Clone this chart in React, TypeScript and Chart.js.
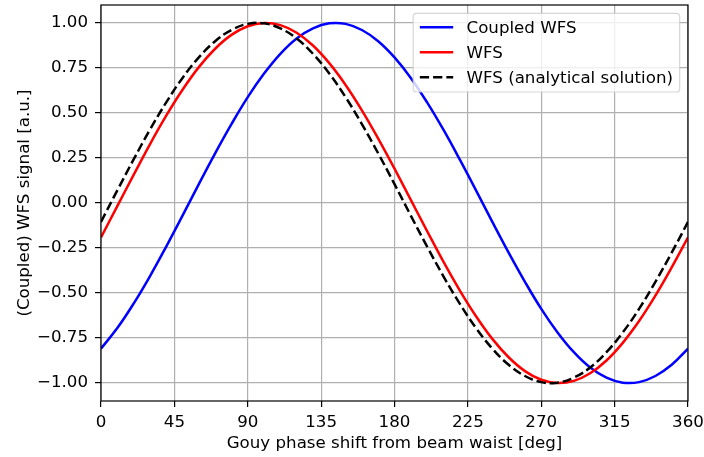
import React, { useEffect, useRef } from "react";
import { Chart, registerables } from "chart.js";

Chart.register(...registerables);

// Gouy phase shift [deg]
const phaseDeg = [
  0, 10, 20, 30, 40, 50, 60, 70, 80, 90, 100, 110, 120, 130, 140, 150, 160, 170, 180,
  190, 200, 210, 220, 230, 240, 250, 260, 270, 280, 290, 300, 310, 320, 330, 340, 350, 360,
];

const coupledWFS = [
  -0.809, -0.695, -0.559, -0.407, -0.242, -0.07, 0.105, 0.276, 0.438, 0.588, 0.719, 0.829,
  0.914, 0.97, 0.998, 0.995, 0.961, 0.899, 0.809, 0.695, 0.559, 0.407, 0.242, 0.07, -0.105,
  -0.276, -0.438, -0.588, -0.719, -0.829, -0.914, -0.97, -0.998, -0.995, -0.961, -0.899, -0.809,
];

const wfs = [
  -0.191, -0.017, 0.156, 0.326, 0.485, 0.629, 0.755, 0.857, 0.934, 0.982, 1.0, 0.988, 0.946,
  0.875, 0.777, 0.656, 0.515, 0.358, 0.191, 0.017, -0.156, -0.326, -0.485, -0.629, -0.755,
  -0.857, -0.934, -0.982, -1.0, -0.988, -0.946, -0.875, -0.777, -0.656, -0.515, -0.358, -0.191,
];

const wfsAnalytical = [
  -0.105, 0.07, 0.242, 0.407, 0.559, 0.695, 0.809, 0.899, 0.961, 0.995, 0.998, 0.97, 0.914,
  0.829, 0.719, 0.588, 0.438, 0.276, 0.105, -0.07, -0.242, -0.407, -0.559, -0.695, -0.809,
  -0.899, -0.961, -0.995, -0.998, -0.97, -0.914, -0.829, -0.719, -0.588, -0.438, -0.276, -0.105,
];

const xTicks = [0, 45, 90, 135, 180, 225, 270, 315, 360];
const yTicks = [-1, -0.75, -0.5, -0.25, 0, 0.25, 0.5, 0.75, 1];
const seriesLabels = ["Coupled WFS", "WFS", "WFS (analytical solution)"];
const xLabel = "Gouy phase shift from beam waist [deg]";
const yLabel = "(Coupled) WFS signal [a.u.]";

const FONT = '"DejaVu Sans", "Liberation Sans", sans-serif';
const FS = 16.67;

const toPts = (ys: number[]) => phaseDeg.map((x, i) => ({ x, y: ys[i] }));

const frameLegendPlugin = {
  id: "frameLegend",
  afterDatasetsDraw(chart: any) {
    const { ctx, chartArea: a } = chart;
    ctx.save();
    // axes frame (all four spines)
    ctx.strokeStyle = "#000";
    ctx.lineWidth = 1.2;
    ctx.strokeRect(a.left, a.top, a.right - a.left, a.bottom - a.top);

    // legend
    ctx.font = `${FS}px ${FONT}`;
    const ds = chart.data.datasets;
    const maxW = Math.max(...ds.map((d: any) => ctx.measureText(d.label).width));
    const pad = 0.4 * FS;
    const hl = 2 * FS;
    const htp = 0.8 * FS;
    const bap = 0.5 * FS;
    const right = a.right - bap;
    const top = a.top + bap;
    const w = pad * 2 + hl + htp + maxW;
    const left = right - w;
    const h = 4.72 * FS;
    const r = 0.2 * FS;
    ctx.beginPath();
    ctx.moveTo(left + r, top);
    ctx.lineTo(right - r, top);
    ctx.quadraticCurveTo(right, top, right, top + r);
    ctx.lineTo(right, top + h - r);
    ctx.quadraticCurveTo(right, top + h, right - r, top + h);
    ctx.lineTo(left + r, top + h);
    ctx.quadraticCurveTo(left, top + h, left, top + h - r);
    ctx.lineTo(left, top + r);
    ctx.quadraticCurveTo(left, top, left + r, top);
    ctx.closePath();
    ctx.fillStyle = "rgba(255,255,255,0.8)";
    ctx.fill();
    ctx.strokeStyle = "rgba(204,204,204,0.8)";
    ctx.lineWidth = 1.2;
    ctx.stroke();

    ds.forEach((d: any, i: number) => {
      const cy = top + 0.84 * FS + i * 1.5 * FS;
      const x0 = left + pad;
      ctx.beginPath();
      ctx.setLineDash(d.borderDash || []);
      ctx.strokeStyle = d.borderColor;
      ctx.lineWidth = d.borderWidth;
      ctx.moveTo(x0, cy);
      ctx.lineTo(x0 + hl, cy);
      ctx.stroke();
      ctx.setLineDash([]);
      ctx.fillStyle = "#000";
      ctx.textBaseline = "alphabetic";
      ctx.textAlign = "left";
      ctx.fillText(d.label, x0 + hl + htp, cy + 5.5);
    });
    ctx.restore();
  },
};

const fmtY = (v: number) => {
  const s = Math.abs(v).toFixed(2);
  return v < 0 ? "\u2212" + s : s;
};

export default function App() {
  const ref = useRef<HTMLCanvasElement>(null);
  useEffect(() => {
    const chart = new Chart(ref.current!, {
      type: "scatter",
      data: {
        datasets: [
          {
            label: seriesLabels[0],
            data: toPts(coupledWFS),
            showLine: true,
            borderColor: "#0000ff",
            backgroundColor: "#0000ff",
            borderWidth: 2.5,
            pointRadius: 0,
            tension: 0.4,
            order: 3,
          },
          {
            label: seriesLabels[1],
            data: toPts(wfs),
            showLine: true,
            borderColor: "#ff0000",
            backgroundColor: "#ff0000",
            borderWidth: 2.5,
            pointRadius: 0,
            tension: 0.4,
            order: 2,
          },
          {
            label: seriesLabels[2],
            data: toPts(wfsAnalytical),
            showLine: true,
            borderColor: "#000000",
            backgroundColor: "#000000",
            borderWidth: 2.5,
            borderDash: [9.25, 4],
            pointRadius: 0,
            tension: 0.4,
            order: 1,
          },
        ],
      },
      options: {
        animation: false,
        responsive: false,
        devicePixelRatio: 1,
        layout: { padding: { left: 0, right: 16, top: 5, bottom: 0 } },
        plugins: { legend: { display: false }, tooltip: { enabled: false } },
        scales: {
          x: {
            type: "linear",
            min: 0,
            max: 360,
            afterBuildTicks: (s: any) => {
              s.ticks = xTicks.map((v) => ({ value: v }));
            },
            afterFit: (s: any) => {
              s.height = 56;
              s.paddingLeft = 0;
              s.paddingRight = 0;
            },
            ticks: {
              autoSkip: false,
              maxRotation: 0,
              padding: 6,
              color: "#000",
              font: { family: FONT, size: FS },
              callback: (v: any) => String(v),
            },
            grid: {
              color: "#b0b0b0",
              lineWidth: 1.2,
              tickColor: "#000",
              tickLength: 6,
              tickWidth: 1.2,
            },
            border: { display: false },
            title: {
              display: true,
              text: xLabel,
              color: "#000",
              font: { family: FONT, size: FS },
              padding: { top: 0, bottom: 3 },
            },
          },
          y: {
            type: "linear",
            min: -1.1,
            max: 1.1,
            afterBuildTicks: (s: any) => {
              s.ticks = yTicks.map((v) => ({ value: v }));
            },
            afterFit: (s: any) => {
              s.width = 101;
              s.paddingTop = 0;
              s.paddingBottom = 0;
            },
            ticks: {
              autoSkip: false,
              padding: 7,
              color: "#000",
              font: { family: FONT, size: FS },
              callback: (v: any) => fmtY(Number(v)),
            },
            grid: {
              color: "#b0b0b0",
              lineWidth: 1.2,
              tickColor: "#000",
              tickLength: 6,
              tickWidth: 1.2,
            },
            border: { display: false },
            title: {
              display: true,
              text: yLabel,
              color: "#000",
              font: { family: FONT, size: FS },
              padding: { top: 15, bottom: 0 },
            },
          },
        },
      },
      plugins: [frameLegendPlugin],
    } as any);
    return () => chart.destroy();
  }, []);
  return (
    <div
      style={{
        position: "absolute",
        left: 0,
        top: 0,
        width: 704,
        height: 457,
        background: "#fff",
      }}
    >
      <canvas ref={ref} width={704} height={457} style={{ display: "block", width: 704, height: 457 }} />
    </div>
  );
}
